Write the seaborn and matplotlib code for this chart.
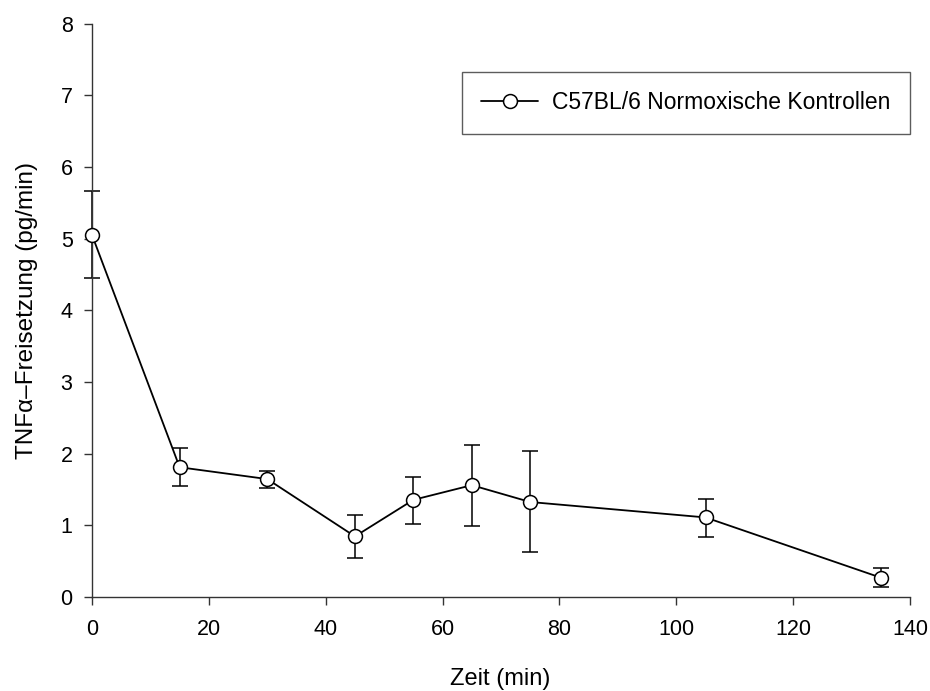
import matplotlib
matplotlib.use("Agg")
import matplotlib.pyplot as plt
import seaborn as sns
import pandas as pd

# Time points (min), mean TNF-alpha release and error bounds (pg/min)
zeit = [0, 15, 30, 45, 55, 65, 75, 105, 135]
tnf = [5.05, 1.81, 1.645, 0.845, 1.355, 1.56, 1.325, 1.11, 0.27]
upper = [5.66, 2.08, 1.76, 1.14, 1.68, 2.12, 2.03, 1.37, 0.40]
lower = [4.45, 1.55, 1.52, 0.55, 1.02, 0.99, 0.63, 0.84, 0.14]
serie = "C57BL/6 Normoxische Kontrollen"

x_ticks = [0, 20, 40, 60, 80, 100, 120, 140]
y_ticks = [0, 1, 2, 3, 4, 5, 6, 7, 8]

df = pd.DataFrame({"Zeit": zeit, "TNF": tnf, "Gruppe": serie})
err_lo = [m - l for m, l in zip(tnf, lower)]
err_hi = [u - m for m, u in zip(tnf, upper)]

sns.set_theme(style="ticks")
plt.rcParams["font.family"] = ["Liberation Sans", "DejaVu Sans"]
plt.rcParams["text.color"] = "black"
plt.rcParams["axes.labelcolor"] = "black"
plt.rcParams["xtick.color"] = "black"
plt.rcParams["ytick.color"] = "black"

W, H = 930, 691
fig = plt.figure(figsize=(W / 100, H / 100), dpi=100)
ax = fig.add_axes([92 / W, 1 - 597 / H, (910 - 92) / W, (597 - 23.5) / H])

ax.errorbar(zeit, tnf, yerr=[err_lo, err_hi], fmt="none", ecolor="black",
            elinewidth=1.1, capsize=5.5, capthick=1.1, zorder=2)
sns.lineplot(data=df, x="Zeit", y="TNF", hue="Gruppe", palette=["black"],
             marker="o", markersize=10, markerfacecolor="white",
             markeredgecolor="black", markeredgewidth=1.1, linewidth=1.3,
             ax=ax, zorder=3)

ax.set_xlim(0, 140)
ax.set_ylim(0, 8)
ax.set_xticks(x_ticks)
ax.set_yticks(y_ticks)
ax.tick_params(axis="both", direction="out", length=6, width=1.0,
               color="#333333", labelsize=15.5, labelcolor="black")
ax.tick_params(axis="x", pad=10)
ax.tick_params(axis="y", pad=8)
for s in ["top", "right"]:
    ax.spines[s].set_visible(False)
for s in ["left", "bottom"]:
    ax.spines[s].set_color("#333333")
    ax.spines[s].set_linewidth(1.0)

ax.set_xlabel("Zeit (min)", fontsize=17, color="black")
ax.xaxis.set_label_coords((500 - 92) / (910 - 92), -(679 - 597) / (597 - 23.5))
ax.xaxis.label.set_va("center")
ax.set_ylabel("TNFα–Freisetzung (pg/min)", fontsize=17.5, color="black")
ax.yaxis.set_label_coords(-(92 - 27) / (910 - 92), 0.5)
ax.yaxis.label.set_va("center")

for ln in ax.lines:
    ln.set_clip_on(False)
for c in ax.collections:
    c.set_clip_on(False)

leg = ax.legend(loc="upper right",
                bbox_to_anchor=(910 / W, 1 - 72 / H),
                bbox_transform=fig.transFigure, fontsize=16.5,
                frameon=True, fancybox=False, edgecolor="#333333",
                handlelength=2.5, borderpad=0.85, borderaxespad=0,
                handletextpad=0.6)
leg.get_frame().set_linewidth(1.0)
leg.set_title(None)

fig.savefig("out.png", dpi=100, facecolor="white")
